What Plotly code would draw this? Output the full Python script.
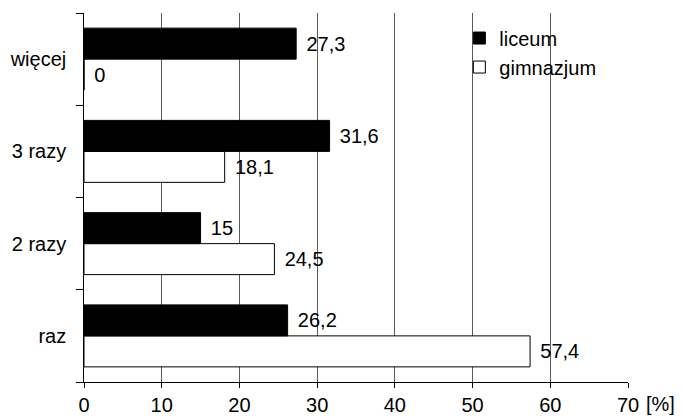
import plotly.graph_objects as go

categories = ["raz", "2 razy", "3 razy", "więcej"]
liceum = [26.2, 15, 31.6, 27.3]
gimnazjum = [57.4, 24.5, 18.1, 0]
x_ticks = [0, 10, 20, 30, 40, 50, 60, 70]

def fmt(v):
    s = ("%g" % v).replace(".", ",")
    return " \u200a" + s

FONT = "Liberation Sans, Arial, Helvetica, sans-serif"
FS = 20

fig = go.Figure()
fig.add_trace(go.Bar(
    y=categories, x=gimnazjum, orientation="h", name="gimnazjum",
    marker=dict(color="white", line=dict(color="black", width=1)),
    text=[fmt(v) for v in gimnazjum], textposition="outside",
    textfont=dict(size=FS, color="black", family=FONT), cliponaxis=False,
))
fig.add_trace(go.Bar(
    y=categories, x=liceum, orientation="h", name="liceum",
    marker=dict(color="black", line=dict(color="black", width=1)),
    text=[fmt(v) for v in liceum], textposition="outside",
    textfont=dict(size=FS, color="black", family=FONT), cliponaxis=False,
))

# page body has a default 8px margin, so the figure is 8px smaller than the window
fig.update_layout(
    width=674, height=408,
    margin=dict(l=76, r=54, t=5, b=34),
    paper_bgcolor="white", plot_bgcolor="white",
    barmode="group", bargap=0.328, bargroupgap=0,
    font=dict(family=FONT, size=FS, color="black"),
    showlegend=True,
    legend=dict(traceorder="reversed", x=0.69, y=0.985, xanchor="left", yanchor="top",
                bgcolor="rgba(0,0,0,0)", font=dict(size=FS), itemwidth=30,
                tracegroupgap=0),
    xaxis=dict(range=[0, 70], tickvals=x_ticks, showgrid=True, gridcolor="#5a5a5a",
               gridwidth=1, zeroline=False, showline=True, linecolor="black",
               ticks="outside", ticklen=5, tickcolor="black", automargin=False,
               tickfont=dict(size=FS), fixedrange=True),
    yaxis=dict(type="category", categoryorder="array", categoryarray=categories,
               showgrid=False, showline=True, linecolor="black", automargin=False,
               ticks="outside", ticklen=7, tickcolor="black", tickson="boundaries",
               tickfont=dict(size=FS), ticksuffix="  \u200a", fixedrange=True),
    annotations=[dict(text="[%]", xref="paper", yref="paper", x=1.03, y=0,
                      xanchor="left", yanchor="top", yshift=-9, showarrow=False,
                      font=dict(size=FS))],
)

fig.write_html("out.html")
